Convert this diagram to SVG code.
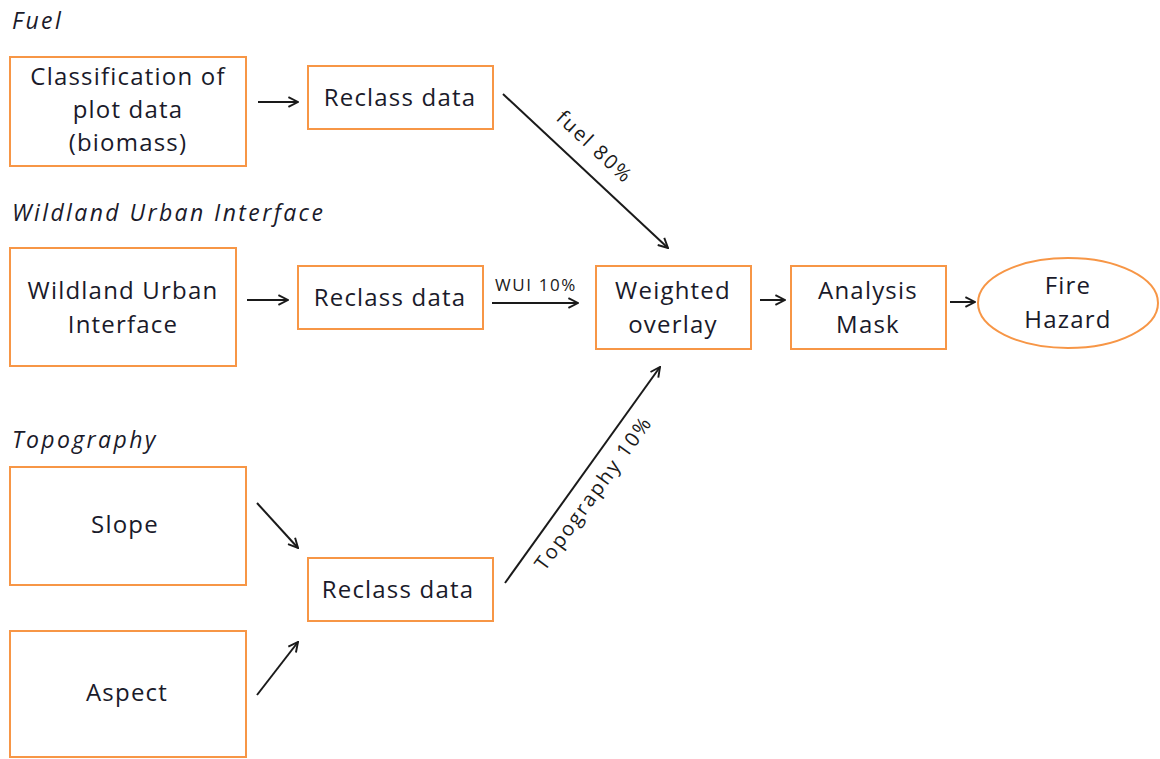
<svg xmlns="http://www.w3.org/2000/svg" width="1160" height="759" viewBox="0 0 1160 759">
<defs>
<style>
.box{fill:#fff;stroke:#f79646;stroke-width:2}
.t{font-family:"Open Sans","Liberation Sans",sans-serif;font-size:24px;letter-spacing:1.2px;fill:#1a1a2a;text-anchor:middle}
.h{font-family:"Open Sans","Liberation Sans",sans-serif;font-size:23px;letter-spacing:2.4px;font-style:italic;fill:#1a1a2a}
.l{font-family:"Open Sans","Liberation Sans",sans-serif;fill:#1a1a1a}
.c{stroke:#1a1a1a;stroke-width:2;fill:none;marker-end:url(#ah)}
</style>
<marker id="ah" viewBox="0 0 10 10" refX="9" refY="5" markerWidth="6" markerHeight="6" orient="auto" markerUnits="strokeWidth">
<path d="M1,1 L9,5 L1,9" fill="none" stroke="#1a1a1a" stroke-width="1.6"/>
</marker>
</defs>
<rect width="1160" height="759" fill="#fff"/>
<text class="h" x="12" y="29">Fuel</text>
<text class="h" x="12" y="221">Wildland Urban Interface</text>
<text class="h" x="12" y="448">Topography</text>
<g id="classification"><rect class="box" x="10" y="57" width="236" height="109"/>
<text class="t" x="128" y="85">Classification of</text><text class="t" x="128" y="118">plot data</text><text class="t" x="128" y="151">(biomass)</text></g>
<g id="reclass1"><rect class="box" x="308" y="66" width="185" height="63"/><text class="t" x="400" y="106">Reclass data</text></g>
<g id="wui"><rect class="box" x="10" y="248" width="226" height="118"/>
<text class="t" x="123" y="299">Wildland Urban</text><text class="t" x="123" y="333">Interface</text></g>
<g id="reclass2"><rect class="box" x="298" y="266" width="185" height="63"/><text class="t" x="390" y="306">Reclass data</text></g>
<g id="weighted"><rect class="box" x="596" y="266" width="155" height="83"/>
<text class="t" x="673" y="299">Weighted</text><text class="t" x="673" y="333">overlay</text></g>
<g id="mask"><rect class="box" x="791" y="266" width="155" height="83"/>
<text class="t" x="868" y="299">Analysis</text><text class="t" x="868" y="333">Mask</text></g>
<g id="fire"><ellipse class="box" cx="1068" cy="303" rx="90" ry="45"/>
<text class="t" x="1068" y="294">Fire</text><text class="t" x="1068" y="328">Hazard</text></g>
<g id="slope"><rect class="box" x="10" y="467" width="236" height="118"/><text class="t" x="125" y="533">Slope</text></g>
<g id="aspect"><rect class="box" x="10" y="631" width="236" height="126"/><text class="t" x="127" y="701">Aspect</text></g>
<g id="reclass3"><rect class="box" x="308" y="558" width="185" height="63"/><text class="t" x="398" y="598">Reclass data</text></g>
<g id="connectors">
<line class="c" x1="258" y1="102" x2="298" y2="102"/>
<line class="c" x1="503" y1="94" x2="668" y2="248"/>
<line class="c" x1="247" y1="300" x2="288" y2="300"/>
<line class="c" x1="492" y1="303" x2="578" y2="303"/>
<line class="c" x1="760" y1="300" x2="785" y2="300"/>
<line class="c" x1="950" y1="302" x2="975" y2="302"/>
<line class="c" x1="257" y1="503" x2="298" y2="548"/>
<line class="c" x1="257" y1="695" x2="298" y2="642"/>
<line class="c" x1="505" y1="583" x2="660" y2="367"/>
<text class="l" font-size="17" letter-spacing="1.6" x="495" y="291">WUI 10%</text>
<text class="l" font-size="20" letter-spacing="2" x="0" y="0" text-anchor="middle" transform="translate(590,152) rotate(43)">fuel 80%</text>
<text class="l" font-size="20" letter-spacing="2" x="0" y="0" text-anchor="middle" transform="translate(599,497) rotate(-54)">Topography 10%</text>
</g>
</svg>
